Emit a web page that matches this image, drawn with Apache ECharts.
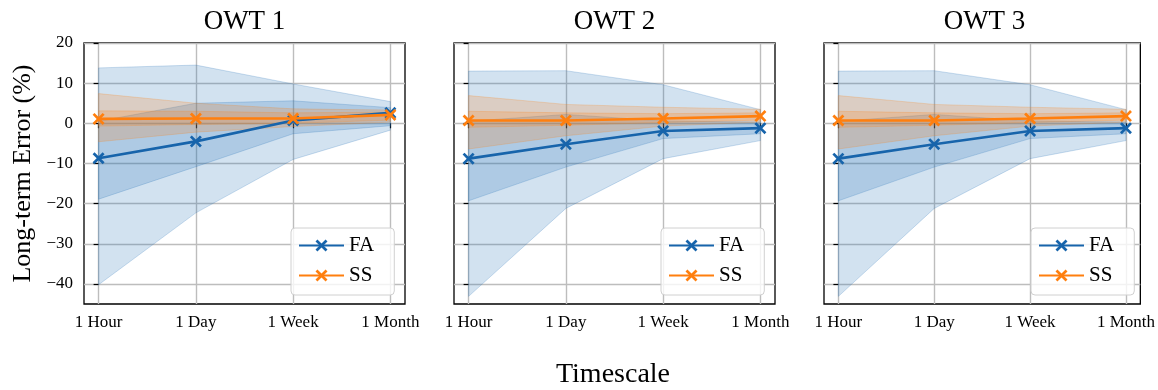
<!DOCTYPE html>
<html>
<head>
<meta charset="utf-8">
<script src="https://cdn.jsdelivr.net/npm/echarts@6.0.0/dist/echarts.min.js"></script>
<style>
  html, body { margin: 0; padding: 0; background: #fff; }
  #main { width: 1158px; height: 390px; }
</style>
</head>
<body>
<div id="main"></div>
<script>
// categories and ticks
const timescales = ['1 Hour', '1 Day', '1 Week', '1 Month'];
const xTicks = [0, 1, 2, 3];
const yTicks = [-40, -30, -20, -10, 0, 10, 20];
const panelTitles = ['OWT 1', 'OWT 2', 'OWT 3'];

// OWT 1
const owt1FaMean = [-8.7, -4.5, 0.7, 2.6];
const owt1SsMean = [1.1, 1.2, 1.2, 2.1];
const owt1FaOuterLow = [-40.2, -22.3, -9.0, -1.7];
const owt1FaOuterHigh = [13.8, 14.5, 9.8, 5.4];
const owt1FaInnerLow = [-18.9, -10.8, -2.6, -0.6];
const owt1FaInnerHigh = [0.5, 5.0, 5.6, 3.9];
const owt1SsOuterLow = [-4.6, -2.2, -0.8, 0.3];
const owt1SsOuterHigh = [7.4, 5.0, 3.6, 3.3];
const owt1SsInnerLow = [-0.7, -0.3, 0.0, 0.8];
const owt1SsInnerHigh = [3.1, 3.0, 2.6, 2.8];

// OWT 2
const owt2FaMean = [-8.8, -5.2, -1.9, -1.2];
const owt2SsMean = [0.7, 0.7, 1.2, 1.8];
const owt2FaOuterLow = [-43.1, -21.2, -8.8, -4.3];
const owt2FaOuterHigh = [13.0, 13.1, 9.6, 3.4];
const owt2FaInnerLow = [-19.3, -10.9, -3.8, -2.6];
const owt2FaInnerHigh = [0.5, 2.2, 0.6, 0.3];
const owt2SsOuterLow = [-6.4, -3.1, -0.7, 0.3];
const owt2SsOuterHigh = [6.9, 4.7, 4.0, 3.5];
const owt2SsInnerLow = [-1.0, -0.5, 0.2, 0.8];
const owt2SsInnerHigh = [3.0, 2.6, 2.4, 2.6];

// OWT 3
const owt3FaMean = [-8.8, -5.2, -1.9, -1.2];
const owt3SsMean = [0.7, 0.7, 1.2, 1.8];
const owt3FaOuterLow = [-43.1, -21.2, -8.8, -4.3];
const owt3FaOuterHigh = [13.0, 13.1, 9.6, 3.4];
const owt3FaInnerLow = [-19.3, -10.9, -3.8, -2.6];
const owt3FaInnerHigh = [0.5, 2.2, 0.6, 0.3];
const owt3SsOuterLow = [-6.4, -3.1, -0.7, 0.3];
const owt3SsOuterHigh = [6.9, 4.7, 4.0, 3.5];
const owt3SsInnerLow = [-1.0, -0.5, 0.2, 0.8];
const owt3SsInnerHigh = [3.0, 2.6, 2.4, 2.6];

const panels = [
  { fa: owt1FaMean, ss: owt1SsMean,
    faBands: [[owt1FaOuterLow, owt1FaOuterHigh], [owt1FaInnerLow, owt1FaInnerHigh]],
    ssBands: [[owt1SsOuterLow, owt1SsOuterHigh], [owt1SsInnerLow, owt1SsInnerHigh]] },
  { fa: owt2FaMean, ss: owt2SsMean,
    faBands: [[owt2FaOuterLow, owt2FaOuterHigh], [owt2FaInnerLow, owt2FaInnerHigh]],
    ssBands: [[owt2SsOuterLow, owt2SsOuterHigh], [owt2SsInnerLow, owt2SsInnerHigh]] },
  { fa: owt3FaMean, ss: owt3SsMean,
    faBands: [[owt3FaOuterLow, owt3FaOuterHigh], [owt3FaInnerLow, owt3FaInnerHigh]],
    ssBands: [[owt3SsOuterLow, owt3SsOuterHigh], [owt3SsInnerLow, owt3SsInnerHigh]] }
];

const FONT = 'Liberation Serif';
const BLUE = '#1764ab';
const ORANGE = '#ff7f0e';
const BLUE_FILL = 'rgba(31,110,180,0.2)';
const BLUE_EDGE = 'rgba(31,110,180,0.22)';
const ORANGE_FILL = 'rgba(255,127,14,0.2)';
const ORANGE_EDGE = 'rgba(255,127,14,0.22)';
// filled "x" marker
const X_MARK = 'path://M0,1.6L1.6,0L5,3.4L8.4,0L10,1.6L6.6,5L10,8.4L8.4,10L5,6.6L1.6,10L0,8.4L3.4,5Z';

const gridLefts = [84, 454, 824];
const gridW = 321;
const gridTop = 43;
const gridH = 261;

const minus = v => (v < 0 ? '\u2212' + Math.abs(v) : String(v));
const pts = arr => arr.map((v, i) => [i, v]);

// fill_between style band: one polygon drawn from the first item, using all rows
function bandRender(fill, edge) {
  return function (params, api) {
    if (params.dataIndexInside !== 0) return;
    const n = params.dataInsideLength;
    const top = [], bottom = [];
    for (let i = 0; i < n; i++) {
      const x = api.value(0, i);
      top.push(api.coord([x, api.value(2, i)]));
      bottom.unshift(api.coord([x, api.value(1, i)]));
    }
    return {
      type: 'polygon',
      shape: { points: top.concat(bottom) },
      style: { fill: fill, stroke: edge, lineWidth: 1 }
    };
  };
}

function band(gi, lower, upper, fill, edge) {
  return {
    type: 'custom', xAxisIndex: gi, yAxisIndex: gi, silent: true, z: 1,
    encode: { x: 0, y: [1, 2] },
    data: lower.map((v, i) => [i, v, upper[i]]),
    renderItem: bandRender(fill, edge)
  };
}

const grid = [], xAxis = [], yAxis = [], series = [], legend = [], title = [];

panels.forEach((p, gi) => {
  grid.push({
    left: gridLefts[gi], top: gridTop, width: gridW, height: gridH,
    show: true, borderColor: '#000', borderWidth: 1.3, backgroundColor: 'transparent'
  });
  xAxis.push({
    gridIndex: gi, type: 'value', min: -0.15, max: 3.15,
    axisLine: { show: false },
    axisTick: { show: true, customValues: xTicks, length: 5, lineStyle: { color: '#000', width: 1.2 } },
    axisLabel: {
      customValues: xTicks, margin: 10,
      formatter: v => timescales[Math.round(v)],
      fontFamily: FONT, fontSize: 17, color: '#000'
    },
    splitLine: { show: true, lineStyle: { color: '#bdbdbd', width: 1.4 } }
  });
  yAxis.push({
    gridIndex: gi, type: 'value', min: -45, max: 20,
    axisLine: { show: false },
    axisTick: { show: true, customValues: yTicks, length: 5, lineStyle: { color: '#000', width: 1.2 } },
    axisLabel: {
      show: gi === 0, customValues: yTicks, margin: 11,
      formatter: minus, fontFamily: FONT, fontSize: 17, color: '#000'
    },
    splitLine: { show: true, lineStyle: { color: '#bdbdbd', width: 1.4 } },
    name: gi === 0 ? 'Long-term Error (%)' : '',
    nameLocation: 'middle', nameRotate: 90, nameGap: 48,
    nameTextStyle: { fontFamily: FONT, fontSize: 26, color: '#000' }
  });

  p.faBands.forEach(b => series.push(band(gi, b[0], b[1], BLUE_FILL, BLUE_EDGE)));
  p.ssBands.forEach(b => series.push(band(gi, b[0], b[1], ORANGE_FILL, ORANGE_EDGE)));

  [['FA', p.fa, BLUE], ['SS', p.ss, ORANGE]].forEach(([name, vals, col], k) => {
    series.push({
      name, type: 'line', xAxisIndex: gi, yAxisIndex: gi,
      data: pts(vals), symbol: X_MARK, symbolSize: 12, symbolKeepAspect: true,
      lineStyle: { width: 2.6, color: col },
      itemStyle: { color: col },
      z: 5 + k
    });
  });

  legend.push({
    data: ['FA', 'SS'], orient: 'vertical',
    left: gridLefts[gi] + 207, top: 228,
    padding: [7, 20, 9, 7], itemGap: 9, itemWidth: 45, itemHeight: 15, itemTextGap: 15,
    borderColor: '#d0d0d0', borderWidth: 1, borderRadius: 4,
    backgroundColor: 'rgba(255,255,255,0.8)',
    textStyle: { fontFamily: FONT, fontSize: 21, color: '#000' },
    selectedMode: false
  });

  title.push({
    text: panelTitles[gi], left: gridLefts[gi] + gridW / 2, top: 8,
    textAlign: 'center', padding: 0,
    textStyle: { fontFamily: FONT, fontSize: 27, fontWeight: 'normal', color: '#000' }
  });
});

title.push({
  text: 'Timescale', left: 613, top: 361, textAlign: 'center', padding: 0,
  textStyle: { fontFamily: FONT, fontSize: 28, fontWeight: 'normal', color: '#000' }
});

const chart = echarts.init(document.getElementById('main'));
chart.setOption({
  animation: false,
  backgroundColor: '#fff',
  title, grid, xAxis, yAxis, legend, series
});
</script>
</body>
</html>
